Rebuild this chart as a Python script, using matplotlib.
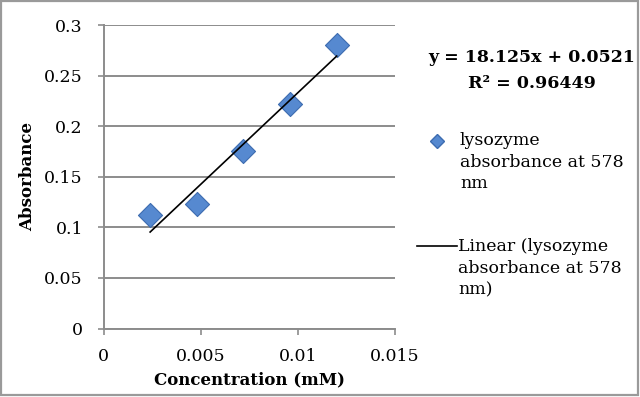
import numpy as np
import matplotlib
matplotlib.use("Agg")
import matplotlib.pyplot as plt
from matplotlib.lines import Line2D
from matplotlib.patches import Rectangle

# data
concentration = [0.0024, 0.0048, 0.0072, 0.0096, 0.0120]
absorbance = [0.112, 0.1226, 0.1755, 0.2216, 0.2799]
x_ticks = [0, 0.005, 0.01, 0.015]
x_tick_labels = ["0", "0.005", "0.01", "0.015"]
y_ticks = [0, 0.05, 0.1, 0.15, 0.2, 0.25, 0.3]
y_tick_labels = ["0", "0.05", "0.1", "0.15", "0.2", "0.25", "0.3"]
equation = "y = 18.125x + 0.0521"
r_squared = "R² = 0.96449"
series_label = "lysozyme\nabsorbance at 578\nnm"
trend_label = "Linear (lysozyme\nabsorbance at 578\nnm)"

GRID = "#8c8c8c"
BLUE = "#5689d0"
BLUE_EDGE = "#3d6cb0"
W, H = 640, 397

plt.rcParams["font.family"] = ["DejaVu Serif"]

fig = plt.figure(figsize=(W / 100, H / 100), dpi=100, facecolor="white")
ax = fig.add_axes([103.5 / W, (H - 328.5) / H, (395 - 103.5) / W, (328.5 - 25) / H])

ax.scatter(concentration, absorbance, marker="D", s=150, color=BLUE,
           edgecolor=BLUE_EDGE, linewidth=0.8, zorder=3, clip_on=False)

slope, intercept = np.polyfit(concentration, absorbance, 1)
xs = np.array([min(concentration), max(concentration)])
ax.plot(xs, slope * xs + intercept, color="black", linewidth=1.2, zorder=4)

ax.set_xlim(0, 0.015)
ax.set_ylim(0, 0.3)
ax.set_xticks(x_ticks)
ax.set_xticklabels(x_tick_labels)
ax.set_yticks(y_ticks)
ax.set_yticklabels(y_tick_labels)
ax.tick_params(direction="out", length=4.3, width=1.2, color=GRID,
               labelsize=12.5)
ax.tick_params(axis="y", pad=10.5)
ax.tick_params(axis="x", pad=10)
ax.yaxis.grid(True, color=GRID, linewidth=1.4)
ax.set_axisbelow(True)
for side in ("top", "right"):
    ax.spines[side].set_visible(False)
for side in ("left", "bottom"):
    ax.spines[side].set_color(GRID)
    ax.spines[side].set_linewidth(1.4)

ax.xaxis.set_label_coords(0.5, -(380 - 328.5) / (328.5 - 25))
ax.yaxis.set_label_coords(-(103.5 - 28) / (395 - 103.5), 0.5)
ax.set_xlabel("Concentration (mM)", fontsize=12, fontweight="bold", va="center")
ax.set_ylabel("Absorbance", fontsize=12, fontweight="bold", va="center")

# trendline equation
fig.text(532 / W, 1 - 58 / H, equation, ha="center", va="center",
         fontsize=12.5, fontweight="bold")
fig.text(532 / W, 1 - 83 / H, r_squared, ha="center", va="center",
         fontsize=12.5, fontweight="bold")

# legend, drawn by hand so the handles sit on the first text line
fig.add_artist(Line2D([437 / W], [1 - 141 / H], marker="D", markersize=7,
                      color=BLUE, markeredgecolor=BLUE_EDGE, linestyle="none"))
fig.text(460 / W, 1 - 132 / H, series_label, ha="left", va="top",
         fontsize=12.5, linespacing=1.35)
fig.add_artist(Line2D([417 / W, 457 / W], [1 - 246 / H, 1 - 246 / H],
                      color="black", linewidth=1.2))
fig.text(458 / W, 1 - 238 / H, trend_label, ha="left", va="top",
         fontsize=12.5, linespacing=1.35)

# chart border
fig.add_artist(Rectangle((1 / W, 2 / H), (W - 3) / W, (H - 3) / H,
                         transform=fig.transFigure, fill=False,
                         edgecolor="#9a9a9a", linewidth=1.6))

fig.savefig("out.png", dpi=100, facecolor="white")
